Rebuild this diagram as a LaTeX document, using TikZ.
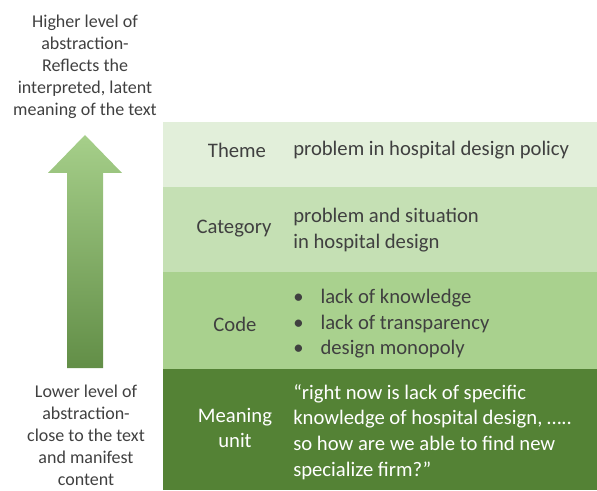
\documentclass[tikz,border=0pt]{standalone}
\usepackage{fontspec}
\setmainfont{Carlito}
\definecolor{themegreen}{HTML}{E2EFDA}
\definecolor{catgreen}{HTML}{C5E0B4}
\definecolor{codegreen}{HTML}{A9D18E}
\definecolor{unitgreen}{HTML}{548235}
\definecolor{textgray}{HTML}{404040}
\definecolor{arrowtop}{HTML}{A6CF8A}
\definecolor{arrowbot}{HTML}{628E47}

\begin{document}
\begin{tikzpicture}[x=0.75pt, y=0.75pt,
  level/.style={font=\fontsize{15.5}{19.2}\selectfont, text=textgray, align=center},
  entry/.style={font=\fontsize{15.5}{19.2}\selectfont, text=textgray, align=left, anchor=west, inner sep=0pt},
  side/.style={font=\fontsize{13.5}{16.5}\selectfont, text=textgray, align=center, inner sep=0pt}
]
\useasboundingbox (0,0) rectangle (597,490);

% Bands, from the bottom up
\fill[unitgreen] (163,0) rectangle (597,121);
\fill[codegreen] (163,121) rectangle (597,218);
\fill[catgreen] (163,218) rectangle (597,303);
\fill[themegreen] (163,303) rectangle (597,368);

% Abstraction arrow
\shade[top color=arrowtop, bottom color=arrowbot]
  (67,122) -- (67,317) -- (48,317) -- (85,355) -- (122,317) -- (103,317) -- (103,122) -- cycle;

% Side notes
\node[side] (higher) at (85,423) {Higher level of\\abstraction-\\Reflects the\\interpreted, latent\\meaning of the text};
\node[side] (lower) at (86,55) {Lower level of\\abstraction-\\close to the text\\and manifest\\content};

% Theme
\node[level] (theme) at (237,340) {Theme};
\node[entry] (theme-txt) at (293,340) {problem in hospital design policy};

% Category
\node[level] (category) at (234,261) {Category};
\node[entry] (category-txt) at (293,260) {problem and situation\\in hospital design};

% Code
\node[level] (code) at (235,166) {Code};
\node[entry] (code-txt) at (293,166) {\makebox[20.5pt][l]{\textbullet}lack of knowledge\\
  \makebox[20.5pt][l]{\textbullet}lack of transparency\\
  \makebox[20.5pt][l]{\textbullet}design monopoly};

% Meaning unit
\node[level, text=white] (unit) at (235,62) {Meaning\\unit};
\node[entry, text=white] (unit-txt) at (293,58) {“right now is lack of specific\\knowledge of hospital design, …..\\so how are we able to find new\\specialize firm?”};
\end{tikzpicture}
\end{document}
